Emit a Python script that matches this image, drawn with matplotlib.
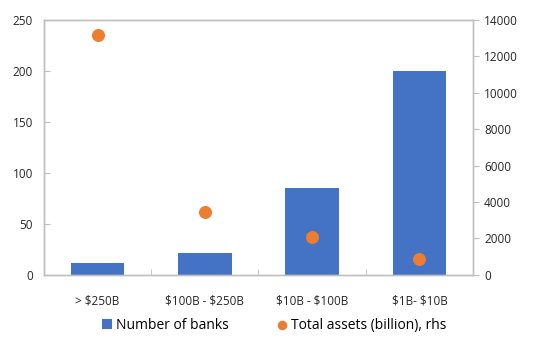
import matplotlib.pyplot as plt
import numpy as np

plt.rcParams['font.family'] = ['Open Sans', 'DejaVu Sans']

# Dados
categorias = ['> $250B', '$100B - $250B', '$10B - $100B', '$1B- $10B']
num_bancos = [12, 22, 85, 200]
ativos_totais = [13180, 3430, 2100, 880]

azul = '#4472C4'
laranja = '#ED7D31'
cinza = '#BFBFBF'

fig = plt.figure(figsize=(5.49, 3.37), dpi=100)
ax = fig.add_axes([0.080, 0.184, 0.7816, 0.758])
ax2 = ax.twinx()

x = np.arange(len(categorias))
ax.bar(x, num_bancos, width=0.5, color=azul, label='Number of banks', zorder=2)
ax2.scatter(x, ativos_totais, s=70, color=laranja, label='Total assets (billion), rhs', zorder=3)

ax.set_xlim(-0.5, 3.5)
ax.set_ylim(0, 250)
ax2.set_ylim(0, 14000)
ax.set_yticks(range(0, 251, 50))
ax2.set_yticks(range(0, 14001, 2000))

# escapando o $ para nao virar mathtext
ax.set_xticks(x)
ax.set_xticklabels([c.replace('$', r'\$') for c in categorias])
ax.set_xticks([0.5, 1.5, 2.5], minor=True)
ax.tick_params(axis='x', which='major', length=0, pad=14, labelsize=8.5, colors='#262626')
ax.tick_params(axis='x', which='minor', length=4, direction='in', color=cinza)
ax.tick_params(axis='y', length=4, direction='in', color=cinza, labelsize=8.5, labelcolor='#262626', pad=8)
ax2.tick_params(axis='y', length=4, direction='out', color=cinza, labelsize=8.5, labelcolor='#262626', pad=4)

for a in (ax, ax2):
    for s in a.spines.values():
        s.set_color(cinza)
        s.set_linewidth(1)

# Legenda
h1, l1 = ax.get_legend_handles_labels()
h2, l2 = ax2.get_legend_handles_labels()
fig.legend(h1 + h2, l1 + l2, loc='center', bbox_to_anchor=(0.50, 0.035), ncol=2,
           frameon=False, fontsize=10, handlelength=0.7, handleheight=0.7,
           markerscale=0.7, columnspacing=3.5, handletextpad=0.3)

plt.savefig('out.png', dpi=100)
